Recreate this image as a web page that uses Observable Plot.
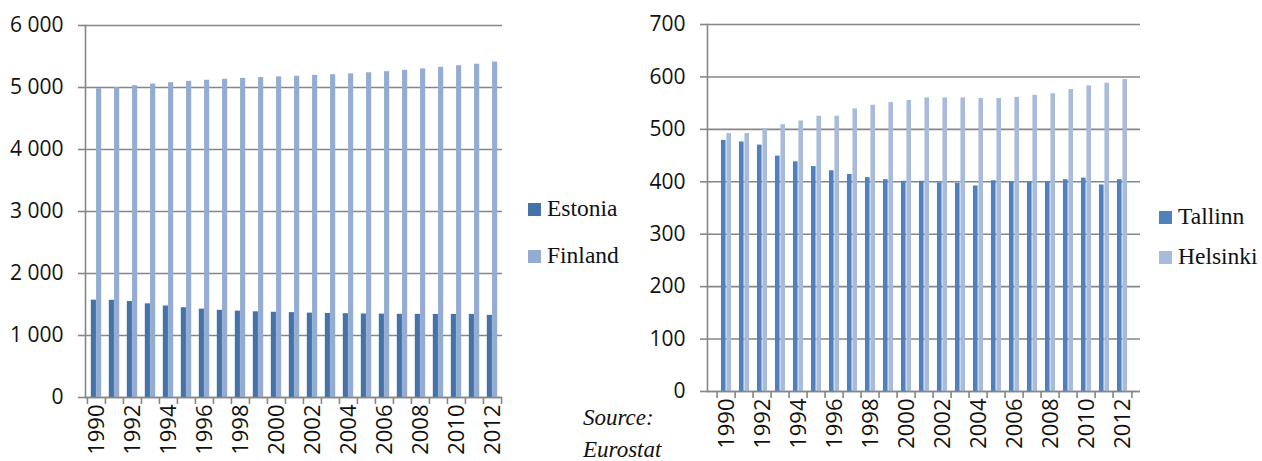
<!DOCTYPE html>
<html><head><meta charset="utf-8">
<script src="https://cdn.jsdelivr.net/npm/d3@7"></script>
<script src="https://cdn.jsdelivr.net/npm/@observablehq/plot@0.6"></script>
<style>
body{margin:0;background:#fff;}
#wrap{position:relative;width:1262px;height:461px;overflow:hidden;}
.chart{position:absolute;top:0;}
.leg{position:absolute;font-family:"Liberation Serif",serif;font-size:23.5px;color:#111;line-height:1;white-space:nowrap;}
.sw{position:absolute;width:13px;height:13px;}
.src{position:absolute;font-family:"Liberation Serif",serif;font-style:italic;font-size:23px;color:#111;white-space:nowrap;line-height:1;}
</style></head><body><div id="wrap"></div>
<script>
const years = [1990,1991,1992,1993,1994,1995,1996,1997,1998,1999,2000,2001,2002,2003,2004,2005,2006,2007,2008,2009,2010,2011,2012];
const labelYears = [1990,1992,1994,1996,1998,2000,2002,2004,2006,2008,2010,2012];

const estonia = [1570,1568,1548,1511,1476,1448,1425,1406,1393,1382,1375,1369,1361,1356,1351,1347,1345,1342,1341,1340,1340,1340,1325];
const finland = [4980,4998,5029,5055,5078,5099,5117,5132,5147,5160,5171,5181,5195,5206,5220,5237,5256,5277,5300,5326,5351,5375,5410];
const countryNames = ["Estonia","Finland"];
const countryTicks = [0,1000,2000,3000,4000,5000,6000];

const tallinn = [479,476,470,449,438,429,421,414,408,404,401,401,398,397,392,402,400,400,400,404,407,394,404];
const helsinki = [492,492,501,509,516,525,525,539,546,551,555,560,560,560,559,559,561,565,568,576,583,588,595];
const cityNames = ["Tallinn","Helsinki"];
const cityTicks = [0,100,200,300,400,500,600,700];

const wrap = document.getElementById("wrap");
const GRID = "#868686";

function chart({series, names, colors, ticks, fmt, left, width, height, ml, mr, mt, mb, barFrac}) {
  const bw = (width - ml - mr) / years.length;
  const b = bw * barFrac;
  const pad = (bw - 2 * b) / 2;
  const rows = names.map((n, i) => years.map((y, j) => ({year: y, name: n, value: series[i][j]})));
  const p = Plot.plot({
    width, height,
    marginLeft: ml, marginRight: mr, marginTop: mt, marginBottom: mb,
    style: {fontFamily: "'Open Sans', sans-serif", fontSize: "21px", color: "#111", background: "transparent", overflow: "visible"},
    x: {type: "band", domain: years, padding: 0, axis: null, label: null},
    y: {domain: [0, ticks[ticks.length - 1]], axis: null, label: null},
    marks: [
      Plot.gridY(ticks, {stroke: GRID, strokeOpacity: 1, strokeWidth: 1.6}),
      Plot.barY(rows[0], {x: "year", y: "value", fill: colors[0], insetLeft: pad, insetRight: bw - pad - b}),
      Plot.barY(rows[1], {x: "year", y: "value", fill: colors[1], insetLeft: pad + b, insetRight: pad}),
      Plot.ruleY([0], {stroke: GRID, strokeWidth: 1.6}),
      Plot.frame({anchor: "left", stroke: GRID, strokeWidth: 1.6}),
      Plot.axisY({ticks, tickFormat: fmt, tickSize: 7, tickPadding: 15, stroke: GRID, strokeWidth: 1.6, label: null, fontSize: 21, fill: "#111"}),
      Plot.axisX({ticks: years, tickSize: 7, tickFormat: () => "", dx: -bw / 2, stroke: GRID, strokeWidth: 1.6, label: null}),
      Plot.axisX({ticks: [years[years.length - 1]], tickSize: 7, tickFormat: () => "", dx: bw / 2, stroke: GRID, strokeWidth: 1.6, label: null}),
      Plot.axisX({ticks: labelYears, tickSize: 0, tickPadding: 7, tickRotate: -90, tickFormat: d => String(d), label: null, fontSize: 22, fill: "#111"})
    ]
  });
  p.classList.add("chart");
  p.style.left = left + "px";
  wrap.appendChild(p);
}

const thousands = d => d3.format(",")(d).replace(/,/g, " ");

chart({series: [estonia, finland], names: countryNames, colors: ["#4572a7", "#94acd4"], ticks: countryTicks, fmt: thousands,
  left: 0, width: 520, height: 461, ml: 85, mr: 18, mt: 25, mb: 64, barFrac: 0.29});
chart({series: [tallinn, helsinki], names: cityNames, colors: ["#4f81bd", "#a8bbdb"], ticks: cityTicks, fmt: d => String(d),
  left: 620, width: 530, height: 461, ml: 87, mr: 10, mt: 24, mb: 70, barFrac: 0.29});

function legend(items, x, ys) {
  items.forEach(([name, color], i) => {
    const sw = document.createElement("div");
    sw.className = "sw"; sw.style.background = color;
    sw.style.left = x + "px"; sw.style.top = ys[i] + "px";
    wrap.appendChild(sw);
    const t = document.createElement("div");
    t.className = "leg"; t.textContent = name;
    t.style.left = (x + 19) + "px"; t.style.top = (ys[i] - 6) + "px";
    wrap.appendChild(t);
  });
}
legend([[countryNames[0], "#4572a7"], [countryNames[1], "#94acd4"]], 528, [203, 250]);
legend([[cityNames[0], "#4f81bd"], [cityNames[1], "#a8bbdb"]], 1159, [211, 251]);

const s1 = document.createElement("div"); s1.className = "src"; s1.textContent = "Source:";
s1.style.left = "583px"; s1.style.top = "406px"; wrap.appendChild(s1);
const s2 = document.createElement("div"); s2.className = "src"; s2.textContent = "Eurostat";
s2.style.left = "583px"; s2.style.top = "438px"; wrap.appendChild(s2);
</script></body></html>
